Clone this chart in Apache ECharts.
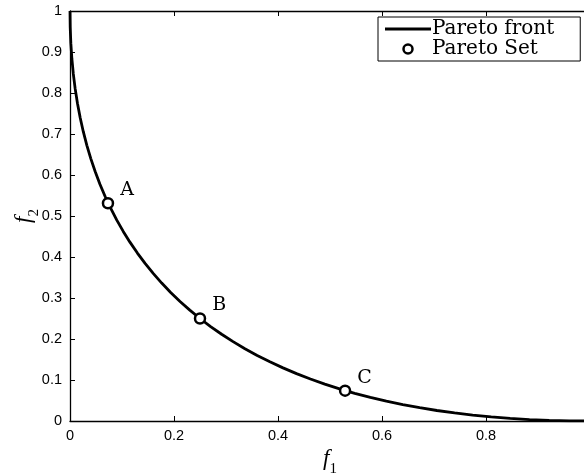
<!DOCTYPE html>
<html><head><meta charset="utf-8">
<script src="https://cdn.jsdelivr.net/npm/echarts@6/dist/echarts.min.js"></script>
<style>html,body{margin:0;padding:0;background:#fff}#c{width:584px;height:473px}</style>
</head><body><div id="c"></div>
<script>
const frontF1 = [0,0.0004,0.0016,0.0036,0.0064,0.01,0.0144,0.0196,0.0256,0.0324,0.04,0.0484,0.0576,0.0676,0.0784,0.09,0.1024,0.1156,0.1296,0.1444,0.16,0.1764,0.1936,0.2116,0.2304,0.25,0.2704,0.2916,0.3136,0.3364,0.36,0.3844,0.4096,0.4356,0.4624,0.49,0.5184,0.5476,0.5776,0.6084,0.64,0.6724,0.7056,0.7396,0.7744,0.81,0.8464,0.8836,0.9216,0.9604,1];
const frontF2 = [1,0.9604,0.9216,0.8836,0.8464,0.81,0.7744,0.7396,0.7056,0.6724,0.64,0.6084,0.5776,0.5476,0.5184,0.49,0.4624,0.4356,0.4096,0.3844,0.36,0.3364,0.3136,0.2916,0.2704,0.25,0.2304,0.2116,0.1936,0.1764,0.16,0.1444,0.1296,0.1156,0.1024,0.09,0.0784,0.0676,0.0576,0.0484,0.04,0.0324,0.0256,0.0196,0.0144,0.01,0.0064,0.0036,0.0016,0.0004,0];
const setNames = ['A','B','C'];
const setF1 = [0.073,0.25,0.529];
const setF2 = [0.531,0.25,0.074];

const chart = echarts.init(document.getElementById('c'));
const sans = "Liberation Sans";
const serif = "DejaVu Serif";
const iserif = "Liberation Serif";
const fmt = v => String(Math.round(v*10)/10);
const nameRich = {
  i: {fontFamily: iserif, fontStyle: 'italic', fontSize: 23, color: '#000'},
  s: {fontFamily: iserif, fontSize: 15, color: '#000', verticalAlign: 'bottom', padding: [0,0,-7,0]}
};
const baseAxis = {
  min: 0, max: 1, interval: 0.1,
  axisLine: {show: true, onZero: false, lineStyle: {color: '#000', width: 1.3}},
  axisTick: {show: true, inside: true, length: 5, lineStyle: {color: '#000'}},
  splitLine: {show: false},
  axisLabel: {color: '#000', fontFamily: sans, fontSize: 14.5, formatter: fmt}
};
chart.setOption({
  animation: false,
  grid: {left: 70, top: 11, bottom: 52, right: -6, outerBoundsMode: 'none', containLabel: false},
  xAxis: [
    Object.assign({}, baseAxis, {type: 'value', position: 'bottom', interval: 0.2,
      axisLabel: Object.assign({}, baseAxis.axisLabel, {margin: 7}),
      name: '{i|f}{s|1}', nameLocation: 'middle', nameGap: 26, nameMoveOverlap: false,
      nameTextStyle: {rich: nameRich}}),
    Object.assign({}, baseAxis, {type: 'value', position: 'top', interval: 0.2, axisLabel: {show: false}})
  ],
  yAxis: [
    Object.assign({}, baseAxis, {type: 'value', position: 'left',
      axisLabel: Object.assign({}, baseAxis.axisLabel, {margin: 8}),
      name: '{i|f}{s|2}', nameLocation: 'middle', nameGap: 35, nameRotate: 90, nameMoveOverlap: false,
      nameTextStyle: {rich: nameRich}}),
    Object.assign({}, baseAxis, {type: 'value', position: 'right', axisLabel: {show: false}})
  ],
  legend: {
    left: 378, top: 17, orient: 'vertical', itemGap: 0, itemWidth: 46, itemHeight: 9,
    padding: [2, 26, 2, 7],
    borderColor: '#000', borderWidth: 1, borderRadius: 0, backgroundColor: '#fff',
    textStyle: {fontFamily: serif, fontSize: 20, color: '#000', padding: [0,0,0,-4]},
    data: [
      {name: 'Pareto front', icon: 'path://M0 0H46V3H0Z', itemStyle: {color: '#000', borderWidth: 0}},
      {name: 'Pareto Set', icon: 'circle', itemStyle: {color: '#fff', borderColor: '#000', borderWidth: 2.5}}
    ]
  },
  series: [
    {name: 'Pareto front', type: 'line', symbol: 'none', smooth: false,
     lineStyle: {color: '#000', width: 2.8}, itemStyle: {color: '#000'},
     data: frontF1.map((x, i) => [x, frontF2[i]])},
    {name: 'Pareto Set', type: 'scatter', symbol: 'circle', symbolSize: 10,
     itemStyle: {color: '#fff', borderColor: '#000', borderWidth: 2.5, opacity: 1},
     label: {show: true, position: 'right', distance: 6, offset: [0, -13],
             fontFamily: serif, fontSize: 19, color: '#000',
             formatter: p => setNames[p.dataIndex]},
     data: setF1.map((x, i) => [x, setF2[i]]), z: 5}
  ]
});
</script></body></html>
